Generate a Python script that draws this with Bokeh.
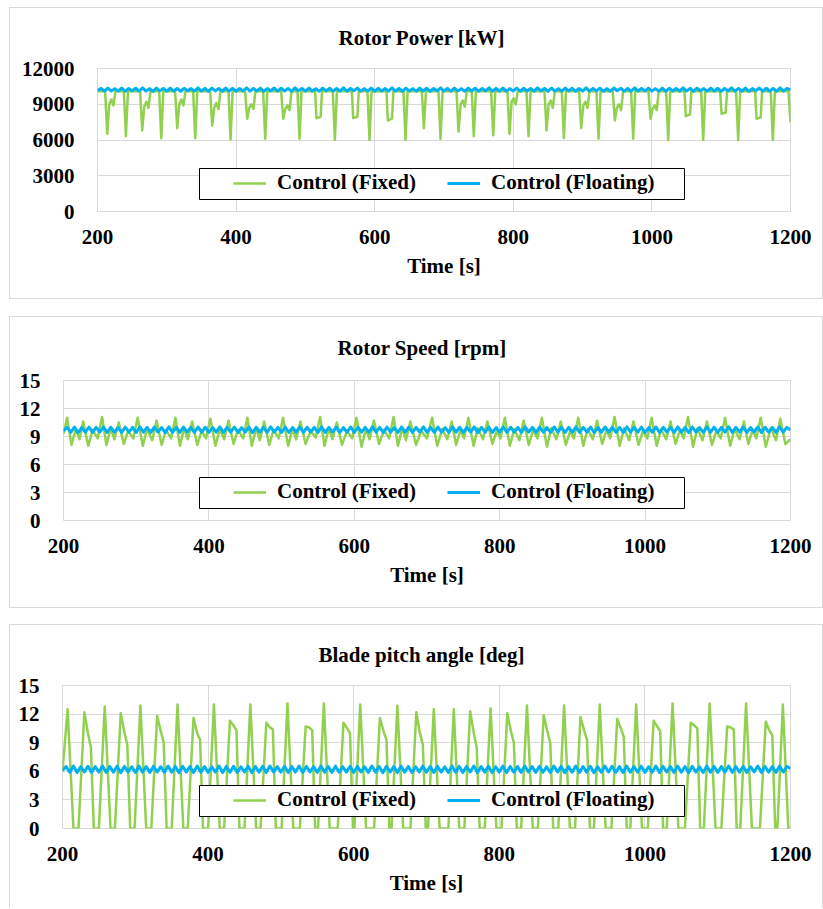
from bokeh.plotting import figure
from bokeh.models import Legend, LegendItem, FixedTicker, BoxAnnotation, Range1d
from bokeh.layouts import column
from bokeh.embed import file_html
from bokeh.resources import INLINE

FONT = "Liberation Serif"
GREEN = "#92D050"
BLUE = "#00B0F0"
GRID = "#d9d9d9"
FS = "21px"

x_ticks = [200, 400, 600, 800, 1000, 1200]
power_ticks = [0, 3000, 6000, 9000, 12000]
deg_ticks = [0, 3, 6, 9, 12, 15]
series_names = ["Control (Fixed)", "Control (Floating)"]
titles = ["Rotor Power [kW]", "Rotor Speed [rpm]", "Blade pitch angle [deg]"]
x_label = "Time [s]"

# ---------------- Rotor power, fixed ----------------
power_fixed_t = [200,
    211, 214, 217, 220, 223, 226,
    238, 241, 244,
    261.5, 264.5, 267.5, 270.5, 273.5, 276.5,
    289, 292, 295,
    312, 315, 318, 321, 324, 327,
    338, 341, 344,
    362.5, 365.5, 368.5, 371.5, 374.5, 377.5,
    389, 392, 395,
    413, 416, 419, 422, 425, 428,
    439, 442, 445,
    465, 468, 471, 474, 477, 480,
    488.5, 491.5, 494.5,
    514, 516, 522, 524,
    539.5, 542.5, 545.5,
    567, 569, 575, 577,
    589.5, 592.5, 595.5,
    617, 619, 625, 627,
    641.5, 644.5, 647.5,
    668, 671, 674,
    692, 695, 698,
    718, 721, 724, 727, 730, 733,
    740, 743, 746,
    768, 771, 774,
    791.5, 794.5, 797.5, 800.5, 803.5, 806.5,
    819, 822, 825,
    845, 848, 851, 854, 857, 860,
    870, 873, 876,
    895, 898, 901, 904, 907, 910,
    920, 923, 926,
    943.5, 946.5, 949.5, 952.5, 955.5, 958.5,
    970, 973, 976,
    995, 998, 1001, 1004, 1007, 1010,
    1020.5, 1023.5, 1026.5,
    1047, 1049, 1055, 1057,
    1071, 1074, 1077,
    1098.5, 1100.5, 1106.5, 1108.5,
    1121.5, 1124.5, 1127.5,
    1149, 1151, 1157, 1159,
    1171.5, 1174.5, 1177.5,
    1197, 1200]
power_fixed_v = [10100,
    10100, 6520, 9000, 9400, 8900, 10100,
    10100, 6320, 10100,
    10100, 6800, 8800, 9200, 8700, 10100,
    10100, 6150, 10100,
    10100, 6990, 9000, 9400, 8900, 10100,
    10100, 6150, 10100,
    10100, 7220, 8700, 9100, 8600, 10100,
    10100, 6040, 10100,
    10100, 7780, 8700, 9000, 8600, 10100,
    10100, 6100, 10100,
    10100, 7780, 8600, 8900, 8500, 10100,
    10100, 6100, 10100,
    10100, 7830, 7950, 10100,
    10100, 6000, 10100,
    10100, 7830, 7950, 10100,
    10100, 6000, 10100,
    10100, 7640, 7800, 10100,
    10100, 6000, 10100,
    10100, 7000, 10100,
    10100, 6100, 10100,
    10100, 6710, 9000, 9300, 8800, 10100,
    10100, 6320, 10100,
    10100, 6400, 10100,
    10100, 6500, 9200, 9500, 9000, 10100,
    10100, 6320, 10100,
    10100, 6800, 9000, 9300, 8700, 10100,
    10100, 6150, 10100,
    10100, 7000, 8900, 9200, 8700, 10100,
    10100, 6100, 10100,
    10100, 7640, 8700, 9000, 8500, 10100,
    10100, 6100, 10100,
    10100, 7780, 8600, 8900, 8500, 10100,
    10100, 6000, 10100,
    10100, 8000, 8150, 10100,
    10100, 6000, 10100,
    10100, 8200, 8300, 10100,
    10100, 6000, 10100,
    10100, 7780, 7900, 10100,
    10100, 6000, 10100,
    10100, 7500]

# ---------------- Floating series share one time grid (5 s) ----------------
float_t = list(range(200, 1205, 5))

power_float_v = [
    10150, 10330, 10110, 10350, 10100, 10310, 10120, 10360, 10090, 10320, 10130, 10340, 10100, 10370, 10110, 10310, 10090, 10350, 10120, 10330,
    10100, 10360, 10110, 10320, 10090, 10340, 10130, 10310, 10100, 10370, 10110, 10330, 10090, 10350, 10120, 10320, 10100, 10360, 10110, 10340,
    10090, 10320, 10120, 10370, 10100, 10330, 10110, 10350, 10090, 10310, 10130, 10360, 10100, 10340, 10110, 10320, 10090, 10370, 10120, 10330,
    10100, 10350, 10110, 10310, 10090, 10360, 10120, 10340, 10100, 10320, 10110, 10370, 10090, 10330, 10130, 10350, 10100, 10310, 10110, 10360,
    10090, 10340, 10120, 10320, 10100, 10370, 10110, 10330, 10090, 10350, 10120, 10310, 10100, 10360, 10110, 10340, 10090, 10320, 10130, 10370,
    10110, 10330, 10100, 10350, 10120, 10310, 10090, 10360, 10110, 10340, 10100, 10320, 10130, 10370, 10090, 10330, 10110, 10350, 10100, 10310,
    10120, 10360, 10090, 10340, 10110, 10320, 10100, 10370, 10130, 10330, 10090, 10350, 10110, 10310, 10100, 10360, 10120, 10340, 10090, 10320,
    10110, 10370, 10100, 10330, 10120, 10350, 10090, 10310, 10110, 10360, 10130, 10340, 10100, 10320, 10090, 10370, 10110, 10330, 10120, 10350,
    10100, 10310, 10110, 10360, 10090, 10340, 10120, 10320, 10100, 10370, 10110, 10330, 10090, 10350, 10130, 10310, 10100, 10360, 10110, 10340,
    10090, 10320, 10120, 10370, 10100, 10330, 10110, 10350, 10090, 10310, 10130, 10360, 10100, 10340, 10110, 10320, 10090, 10370, 10120, 10330,
    10200]

# ---------------- Rotor speed ----------------
speed_fixed_t = [200,
    205, 211, 217, 222,
    227, 234, 240, 247,
    253, 259, 265, 270,
    276, 283, 289, 296,
    302, 309, 315, 322,
    328, 335, 341, 348,
    354, 360, 366, 371,
    377, 384, 390, 396,
    402, 409, 415, 421,
    427, 434, 440, 447,
    453, 459, 465, 470,
    476, 483, 489, 496,
    502, 509, 515, 520,
    526, 533, 540, 547,
    553, 559, 565, 570,
    576, 583, 590, 597,
    603, 610, 616, 621,
    627, 634, 641, 648,
    654, 660, 666, 671,
    677, 685, 692, 700,
    707, 714, 721, 728,
    734, 740, 746, 751,
    757, 764, 770, 777,
    783, 790, 796, 801,
    807, 814, 820, 827,
    833, 840, 846, 852,
    858, 865, 871, 878,
    884, 891, 897, 902,
    908, 915, 921, 928,
    934, 941, 947, 952,
    958, 965, 971, 978,
    984, 991, 997, 1003,
    1009, 1016, 1022, 1029,
    1035, 1042, 1048, 1053,
    1059, 1066, 1072, 1079,
    1085, 1092, 1098, 1104,
    1110, 1117, 1123, 1130,
    1136, 1142, 1148, 1153,
    1159, 1166, 1173, 1180,
    1186, 1193, 1200]
speed_fixed_v = [9.3,
    11.0, 8.1, 9.8, 8.7,
    10.6, 8.0, 9.7, 8.8,
    11.1, 8.1, 9.9, 8.7,
    10.5, 8.2, 9.6, 8.8,
    11.0, 8.0, 9.8, 8.6,
    10.7, 8.1, 9.7, 8.8,
    11.0, 8.0, 9.9, 8.7,
    10.6, 8.1, 9.6, 8.8,
    10.9, 8.0, 9.8, 8.7,
    10.7, 8.2, 9.7, 8.8,
    11.0, 8.0, 9.9, 8.6,
    10.6, 8.1, 9.7, 8.8,
    11.0, 8.0, 9.8, 8.7,
    10.6, 8.2, 9.6, 8.9,
    11.1, 8.0, 9.9, 8.7,
    10.5, 8.1, 9.6, 8.8,
    11.0, 7.9, 9.8, 8.7,
    10.7, 8.2, 9.7, 8.8,
    11.1, 8.0, 9.9, 8.6,
    10.6, 8.1, 9.6, 8.8,
    11.0, 8.0, 9.8, 8.7,
    10.6, 8.1, 9.7, 8.8,
    11.0, 8.0, 9.9, 8.7,
    10.6, 8.2, 9.6, 8.8,
    11.0, 8.0, 9.8, 8.6,
    10.7, 8.1, 9.7, 8.8,
    11.0, 7.9, 9.9, 8.7,
    10.6, 8.1, 9.6, 8.8,
    11.0, 8.0, 9.8, 8.7,
    10.7, 8.2, 9.7, 8.8,
    11.1, 8.0, 9.9, 8.6,
    10.6, 8.1, 9.6, 8.8,
    11.0, 8.0, 9.8, 8.7,
    10.6, 8.2, 9.7, 8.8,
    11.1, 7.9, 9.9, 8.6,
    10.6, 8.1, 9.6, 8.8,
    11.0, 8.0, 9.8, 8.7,
    10.6, 8.2, 9.7, 8.8,
    11.0, 7.9, 9.9, 8.6,
    10.9, 8.2, 8.7]

speed_float_v = [
    9.60, 9.98, 9.45, 10.02, 9.42, 9.96, 9.47, 10.00, 9.44, 9.97, 9.48, 10.03, 9.43, 9.99, 9.46, 9.95, 9.44, 10.01, 9.47, 9.98,
    9.43, 10.02, 9.46, 9.97, 9.44, 10.00, 9.48, 9.96, 9.42, 10.03, 9.45, 9.98, 9.44, 10.01, 9.47, 9.97, 9.43, 10.02, 9.46, 9.99,
    9.44, 9.96, 9.47, 10.03, 9.43, 9.98, 9.46, 10.01, 9.44, 9.95, 9.48, 10.02, 9.42, 9.99, 9.46, 9.97, 9.44, 10.03, 9.47, 9.98,
    9.45, 10.01, 9.43, 9.96, 9.46, 10.02, 9.44, 9.99, 9.48, 9.97, 9.43, 10.03, 9.45, 9.98, 9.47, 10.00, 9.44, 9.96, 9.46, 10.02,
    9.43, 9.99, 9.47, 9.97, 9.44, 10.03, 9.46, 9.98, 9.42, 10.01, 9.47, 9.96, 9.44, 10.02, 9.46, 9.99, 9.43, 9.97, 9.48, 10.03,
    9.45, 9.98, 9.44, 10.01, 9.47, 9.96, 9.43, 10.02, 9.46, 9.99, 9.44, 9.97, 9.48, 10.03, 9.42, 9.98, 9.46, 10.01, 9.44, 9.96,
    9.47, 10.02, 9.43, 9.99, 9.46, 9.97, 9.44, 10.03, 9.48, 9.98, 9.43, 10.01, 9.46, 9.96, 9.44, 10.02, 9.47, 9.99, 9.43, 9.97,
    9.46, 10.03, 9.44, 9.98, 9.47, 10.01, 9.42, 9.96, 9.46, 10.02, 9.48, 9.99, 9.44, 9.97, 9.43, 10.03, 9.46, 9.98, 9.47, 10.01,
    9.44, 9.96, 9.46, 10.02, 9.43, 9.99, 9.47, 9.97, 9.44, 10.03, 9.46, 9.98, 9.42, 10.01, 9.48, 9.96, 9.44, 10.02, 9.46, 9.99,
    9.43, 9.97, 9.47, 10.03, 9.44, 9.98, 9.46, 10.01, 9.43, 9.96, 9.48, 10.02, 9.44, 9.99, 9.46, 9.97, 9.43, 10.03, 9.47, 9.98,
    9.70]

# ---------------- Blade pitch ----------------
pitch_fixed_t = [200,
    207, 215,
    222, 230, 235, 239, 243,
    250, 258, 266,
    272, 280, 285, 289, 293,
    299, 307, 315,
    322, 330, 335, 339, 343,
    350, 358, 366,
    372, 380, 385, 389, 393,
    400, 408, 416,
    422, 430, 435, 439, 443,
    450, 458, 466,
    472, 480, 485, 489, 493,
    501, 509, 517,
    526, 534, 539, 543, 547,
    551, 559, 567,
    578, 586, 591, 595, 599,
    601, 609, 617,
    628, 636, 641, 645, 649,
    652, 660, 668,
    678, 686, 691, 695, 699,
    702, 710, 718,
    730, 737.5, 745,
    752, 760, 765, 769, 773,
    780, 788, 796,
    803, 811, 816, 820, 824,
    830, 838, 846,
    853, 861, 866, 870, 874,
    881, 889, 897,
    904, 911.5, 916.5, 920.5, 924.5,
    930, 938, 946,
    954, 962, 967, 971, 975,
    980, 988, 996,
    1004, 1012, 1017, 1021, 1025,
    1030, 1038, 1046,
    1055, 1063, 1068, 1072, 1076,
    1081, 1089, 1097,
    1105, 1113, 1118, 1122, 1126,
    1131, 1139, 1147,
    1158, 1166, 1171, 1175, 1179,
    1182, 1189.5, 1197, 1200]
pitch_fixed_v = [6.0,
    12.5, 0,
    0, 12.2, 10.0, 8.5, 0,
    0, 12.8, 0,
    0, 12.1, 10.1, 8.8, 0,
    0, 12.9, 0,
    0, 11.8, 10.2, 9.0, 0,
    0, 13.0, 0,
    0, 11.6, 10.0, 9.3, 0,
    0, 13.0, 0,
    0, 11.3, 10.8, 10.3, 0,
    0, 13.0, 0,
    0, 11.1, 10.6, 10.4, 0,
    0, 13.1, 0,
    0, 10.7, 10.6, 10.3, 0,
    0, 13.1, 0,
    0, 11.1, 10.5, 10.0, 0,
    0, 13.0, 0,
    0, 11.6, 10.2, 9.3, 0,
    0, 12.9, 0,
    0, 12.2, 10.0, 8.8, 0,
    0, 12.5, 0,
    0, 12.5, 0,
    0, 12.3, 10.0, 8.5, 0,
    0, 12.6, 0,
    0, 12.1, 10.2, 9.0, 0,
    0, 12.9, 0,
    0, 11.9, 10.2, 9.0, 0,
    0, 12.9, 0,
    0, 11.7, 10.3, 9.3, 0,
    0, 13.0, 0,
    0, 11.5, 10.5, 9.6, 0,
    0, 13.0, 0,
    0, 11.3, 10.7, 10.2, 0,
    0, 13.1, 0,
    0, 11.1, 10.8, 10.5, 0,
    0, 13.1, 0,
    0, 10.7, 10.6, 10.4, 0,
    0, 13.1, 0,
    0, 11.2, 10.3, 9.8, 0,
    0, 13.0, 0, 0]

pitch_float_v = [
    6.10, 6.50, 5.90, 6.55, 5.88, 6.48, 5.93, 6.52, 5.87, 6.50, 5.92, 6.56, 5.89, 6.49, 5.91, 6.53, 5.86, 6.51, 5.93, 6.47,
    5.88, 6.54, 5.91, 6.50, 5.87, 6.52, 5.93, 6.48, 5.89, 6.56, 5.90, 6.51, 5.86, 6.53, 5.92, 6.49, 5.88, 6.55, 5.91, 6.50,
    5.89, 6.48, 5.92, 6.56, 5.87, 6.51, 5.90, 6.53, 5.88, 6.47, 5.93, 6.54, 5.86, 6.50, 5.91, 6.52, 5.89, 6.55, 5.92, 6.49,
    5.90, 6.53, 5.87, 6.49, 5.92, 6.55, 5.88, 6.51, 5.93, 6.48, 5.89, 6.56, 5.91, 6.50, 5.87, 6.54, 5.90, 6.47, 5.92, 6.52,
    5.88, 6.51, 5.93, 6.48, 5.89, 6.56, 5.91, 6.50, 5.86, 6.53, 5.92, 6.49, 5.88, 6.55, 5.90, 6.51, 5.87, 6.48, 5.93, 6.54,
    5.91, 6.50, 5.88, 6.53, 5.92, 6.47, 5.87, 6.55, 5.90, 6.51, 5.89, 6.49, 5.93, 6.56, 5.86, 6.50, 5.91, 6.53, 5.88, 6.48,
    5.92, 6.54, 5.87, 6.51, 5.90, 6.49, 5.89, 6.56, 5.93, 6.50, 5.88, 6.52, 5.91, 6.47, 5.87, 6.55, 5.92, 6.51, 5.86, 6.49,
    5.90, 6.56, 5.89, 6.50, 5.92, 6.53, 5.86, 6.48, 5.91, 6.54, 5.93, 6.51, 5.88, 6.49, 5.87, 6.55, 5.90, 6.50, 5.92, 6.52,
    5.88, 6.48, 5.91, 6.55, 5.87, 6.51, 5.93, 6.49, 5.89, 6.56, 5.90, 6.50, 5.86, 6.53, 5.92, 6.47, 5.88, 6.54, 5.91, 6.51,
    5.87, 6.49, 5.92, 6.56, 5.89, 6.50, 5.90, 6.53, 5.88, 6.48, 5.93, 6.55, 5.89, 6.51, 5.91, 6.49, 5.87, 6.56, 5.92, 6.50,
    6.30]


def panel(title, title_offset, y_max, y_ticks, fixed_t, fixed_v, float_v,
          height, b_left, b_top, b_bottom, m_top, last=False):
    width = 812
    b_right = 32
    p = figure(width=width, height=height, output_backend="svg", toolbar_location=None,
               x_range=Range1d(200, 1200), y_range=Range1d(0, y_max),
               min_border_left=b_left, min_border_right=b_right,
               min_border_top=b_top, min_border_bottom=b_bottom,
               background_fill_color="white", border_fill_color="white",
               outline_line_color=GRID)

    xa = p.below[0]
    ya = p.left[0]

    # title sits at the top of the border strip above the plot area
    p.title.text = title
    p.title.align = "left"
    p.title.offset = title_offset
    p.title.vertical_align = "top"
    p.title.standoff = b_top - 26
    p.title.text_font = FONT
    p.title.text_font_size = FS
    p.title.text_font_style = "bold"
    p.title.text_color = "black"

    for ax in (xa, ya):
        ax.axis_line_color = None
        ax.major_tick_line_color = None
        ax.minor_tick_line_color = None
        ax.major_label_text_font = FONT
        ax.major_label_text_font_size = FS
        ax.major_label_text_font_style = "bold"
        ax.major_label_text_color = "black"
    xa.ticker = FixedTicker(ticks=x_ticks)
    ya.ticker = FixedTicker(ticks=y_ticks)
    xa.major_label_standoff = 12
    ya.major_label_standoff = 17
    xa.axis_label = x_label
    xa.axis_label_text_font = FONT
    xa.axis_label_text_font_size = FS
    xa.axis_label_text_font_style = "bold"
    xa.axis_label_text_color = "black"
    xa.axis_label_standoff = 7

    p.xgrid.ticker = FixedTicker(ticks=x_ticks)
    p.ygrid.ticker = FixedTicker(ticks=y_ticks)
    p.xgrid.grid_line_color = GRID
    p.ygrid.grid_line_color = GRID
    p.xgrid.grid_line_width = 1
    p.ygrid.grid_line_width = 1

    r1 = p.line(fixed_t, fixed_v, line_color=GREEN, line_width=2.5, line_join="round")
    r2 = p.line(float_t, float_v, line_color=BLUE, line_width=3, line_join="round")

    frame_w = width - b_left - b_right
    frame_h = height - b_top - b_bottom
    frame_left_abs = 10 + b_left

    # legend box (pixel offsets measured from the frame's left/bottom edge)
    box_l = 199 - frame_left_abs
    box_r = 684 - frame_left_abs
    box_b, box_t = 12, 43
    sx = 1000 / frame_w
    sy = y_max / frame_h
    box = BoxAnnotation(left=200 + box_l * sx, right=200 + box_r * sx,
                        bottom=box_b * sy, top=box_t * sy,
                        fill_color="white", fill_alpha=1.0,
                        line_color="black", line_width=1, line_alpha=1.0)
    p.add_layout(box)

    legend = Legend(items=[LegendItem(label=series_names[0], renderers=[r1]),
                           LegendItem(label=series_names[1], renderers=[r2])],
                    location=(box_l + 34, 16), orientation="horizontal",
                    padding=0, margin=0, spacing=30, glyph_width=33, glyph_height=20,
                    label_standoff=11, label_width=140,
                    label_text_font=FONT, label_text_font_size=FS,
                    label_text_font_style="bold", label_text_color="black",
                    border_line_color=None, background_fill_alpha=0)
    p.add_layout(legend, "center")

    style = {"border": "1px solid #d9d9d9"}
    if last:
        style["border-bottom"] = "none"
    return column(p, margin=(m_top, 0, 0, 9), styles=style)


w1 = panel(titles[0], 241, 12000, power_ticks, power_fixed_t, power_fixed_v, power_float_v,
           290, 87, 60, 87, 7)
w2 = panel(titles[1], 274, 15, deg_ticks, speed_fixed_t, speed_fixed_v, speed_float_v,
           290, 53, 63, 87, 17)
w3 = panel(titles[2], 256, 15, deg_ticks, pitch_fixed_t, pitch_fixed_v, pitch_float_v,
           283, 52, 60, 80, 16, last=True)

layout = column(w1, w2, w3, spacing=0)
open("out.html", "w").write(file_html(layout, INLINE))
